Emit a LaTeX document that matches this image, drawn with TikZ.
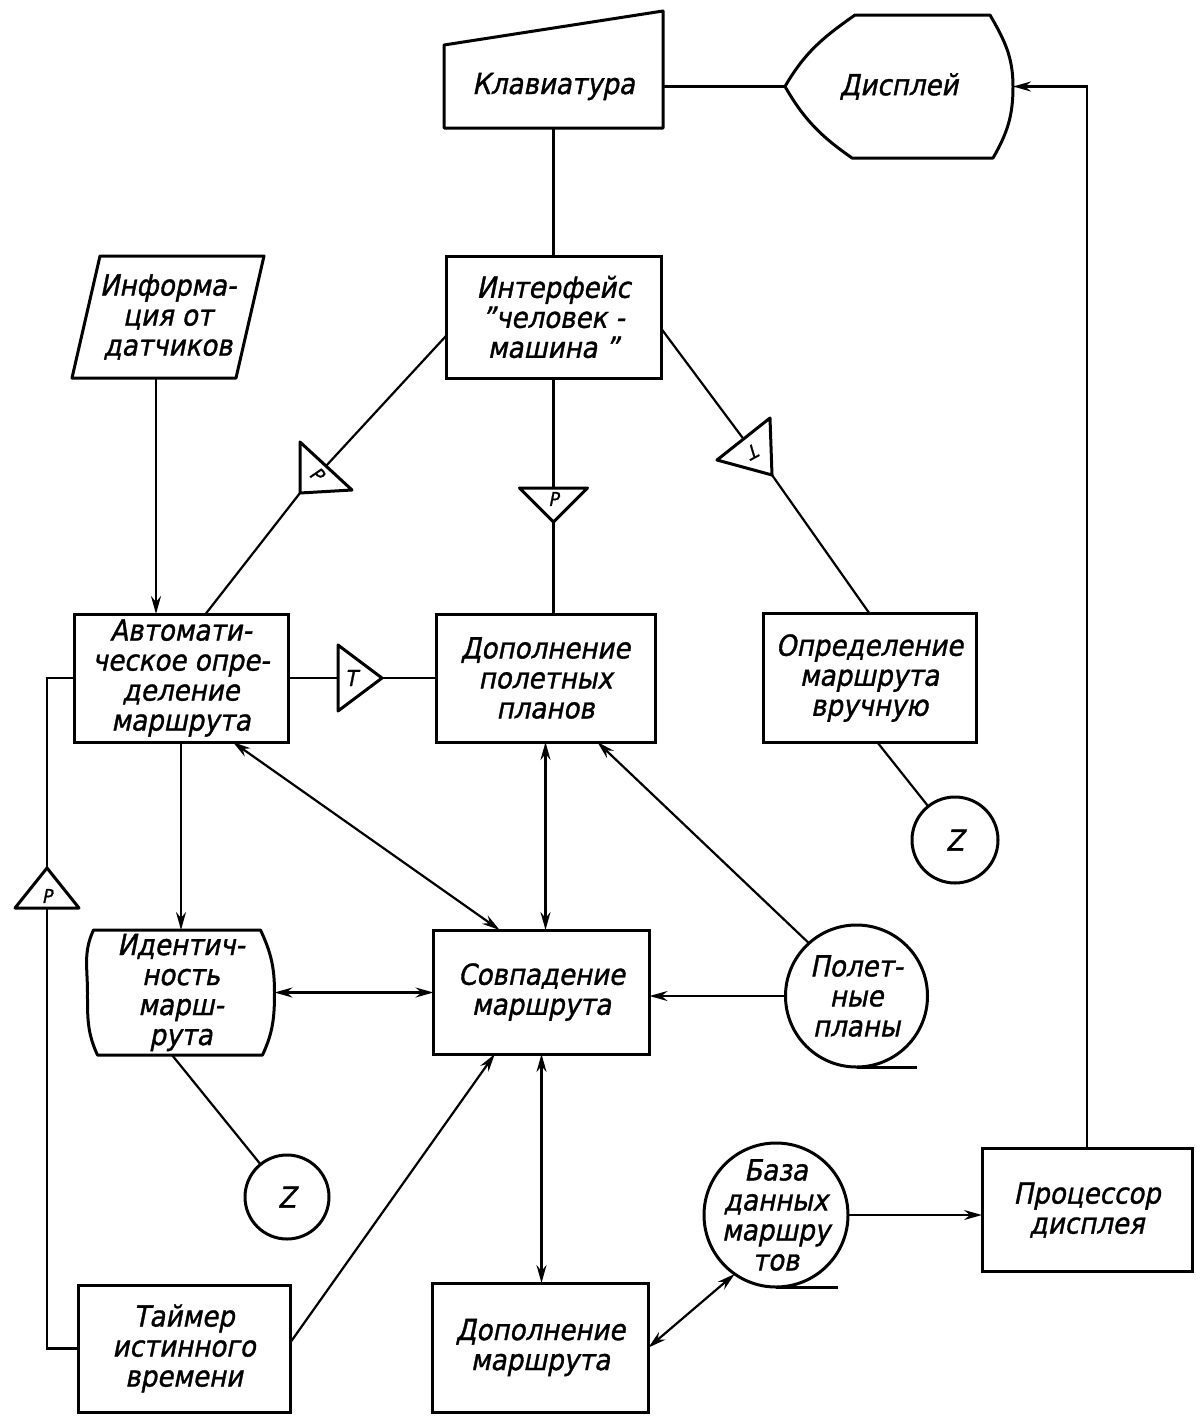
\documentclass[tikz,border=0pt]{standalone}
\usepackage{fontspec}
\setmainfont{DejaVu Sans}[FakeSlant=0.2,FakeStretch=0.9,FakeBold=1.2]
\usetikzlibrary{positioning}
\usetikzlibrary{arrows.meta}

\tikzset{
  box/.style={draw, line width=3pt, align=center, inner sep=2pt, outer sep=0pt},
  bare/.style={align=center, inner sep=2pt, outer sep=0pt},
  disk/.style={draw, circle, line width=3pt, inner sep=0pt, outer sep=0pt},
  outline/.style={line width=3pt, line join=round},
  trilbl/.style={inner sep=0pt, font=\fontsize{19}{19}\selectfont},
  link/.style={line width=2.2pt},
  arr/.style={link, ->},
  darr/.style={link, <->},
}

\begin{document}
\begin{tikzpicture}[x=1pt, y=-1pt, font=\fontsize{29}{30}\selectfont,
    >={Stealth[length=18pt,width=10pt,inset=6pt]}]
    \useasboundingbox (0,0) rectangle (1202,1424);

    % Define nodes
    \node[bare, minimum width=219pt, minimum height=83pt] (kbd) at (553.5,86.5) {Клавиатура};
    \node[bare, right=122pt of kbd, minimum width=228pt, minimum height=143pt] (disp) {Дисплей};
    \node[box, below=128pt of kbd, minimum width=215pt, minimum height=122pt] (iface) {Интерфейс\\\char34 человек -\\машина \char34};
    \node[box, below=236pt of iface, xshift=-8pt, minimum width=219pt, minimum height=128pt] (fpadd) {Дополнение\\полетных\\планов};
    \node[box, left=148pt of fpadd, minimum width=214pt, minimum height=128pt] (auto) {Автомати-\\ческое опре-\\деление\\маршрута};
    \node[box, right=108pt of fpadd, minimum width=213pt, minimum height=129pt] (manual) {Определение\\маршрута\\вручную};
    \node[bare, above=236pt of auto, xshift=-13pt, minimum width=164pt, minimum height=122pt] (info) {Информа-\\ция от\\датчиков};
    \node[box, below=188pt of fpadd, xshift=-4pt, minimum width=216pt, minimum height=124pt] (match) {Совпадение\\маршрута};
    \node[box, below=229pt of match, xshift=-1pt, minimum width=216pt, minimum height=129pt] (radd) {Дополнение\\маршрута};
    \node[bare, below=188pt of auto, minimum width=187pt, minimum height=125pt] (ident) {Идентич-\\ность\\марш-\\рута};
    \node[box, below=230pt of ident, xshift=3pt, minimum width=212pt, minimum height=127pt] (timer) {Таймер\\истинного\\времени};
    \node[disk, right=136pt of match, yshift=-4pt, minimum size=142pt,
          label={[bare]center:{Полет-\\ные\\планы}}] (fplans) {};
    \node[disk, minimum size=144pt, label={[bare]center:{База\\данных\\маршру\\тов}}] (db) at (776,1215) {};
    \node[box, right=134pt of db, yshift=5pt, minimum width=210pt, minimum height=123pt] (proc) {Процессор\\дисплея};
    \node[disk, minimum size=86pt] (z1) at (955,840) {Z};
    \node[disk, minimum size=84pt] (z2) at (287,1197) {Z};

    % Outlines of the special shapes
    \draw[outline] (kbd.north west) -- ([yshift=34pt]kbd.north east) -- (kbd.south east) -- (kbd.south west) -- cycle;
    \draw[outline] (disp.west) to[out=60,in=-145] ([xshift=70pt]disp.north west)
        -- ([xshift=-23pt]disp.north east) to[out=-60,in=90] (disp.east)
        to[out=-90,in=60] ([xshift=-20pt]disp.south east)
        -- ([xshift=67pt]disp.south west) to[out=145,in=-60] (disp.west) -- cycle;
    \draw[outline] ([xshift=14pt]info.north west) -- ([xshift=14pt]info.north east)
        -- ([xshift=-14pt]info.south east) -- ([xshift=-14pt]info.south west) -- cycle;
    \draw[outline] ([xshift=6pt]ident.north west) -- ([xshift=-14pt]ident.north east)
        to[out=-65,in=90] (ident.east) to[out=-90,in=65] ([xshift=-12pt]ident.south east)
        -- ([xshift=10pt]ident.south west) to[out=115,in=-90] (ident.west)
        to[out=90,in=-115] ([xshift=6pt]ident.north west) -- cycle;
    \draw[outline] (fplans.south) -- ++(60,0);
    \draw[outline] (db.south) -- ++(62,0);

    % Triangles
    \node[trilbl] (tpd) at (553.5,499) {P};
    \draw[outline] (519.5,488) -- (587.5,488) -- (553.5,522) -- cycle;
    \coordinate (pdin) at (553.5,488);
    \coordinate (pdout) at (553.5,522);
    \node[trilbl, font=\fontsize{22}{22}\selectfont] (tt) at (351,678) {T};
    \draw[outline] (338,645) -- (382,678) -- (338,711) -- cycle;
    \coordinate (ttin) at (338,678);
    \coordinate (ttout) at (382,678);
    \node[trilbl] (tpl) at (47,896) {P};
    \draw[outline] (47,868) -- (79,908) -- (15,908) -- cycle;
    \coordinate (plup) at (47,868);
    \coordinate (pldown) at (47,908);
    \node[trilbl, rotate=-44] (rho) at (317,474) {P};
    \draw[outline] (300,442) -- (352,490) -- (300,493) -- cycle;
    \coordinate (rhoin) at (326,466);
    \coordinate (rhoout) at (300,493);
    \node[trilbl, rotate=-152] (tr) at (754,451) {T};
    \draw[outline] (770,418) -- (772,475) -- (717,460) -- cycle;
    \coordinate (trin) at (743.5,439);
    \coordinate (trout) at (772,475);
    \coordinate (infout) at ([xshift=-12pt]info.south);

    % Connect the nodes
    \draw[link] (kbd.east) -- (disp.west);
    \draw[arr] (proc.north) |- (disp.east);
    \draw[link] (kbd.south) -- (iface.north);
    \draw[link] (iface.south) -- (pdin);
    \draw[link] (pdout) -- (pdout |- fpadd.north);
    \draw[link] (iface.190) -- (rhoin);
    \draw[link] (rhoout) -- (auto.69);
    \draw[link] (iface.354) -- (trin);
    \draw[link] (trout) -- (manual.north);
    \draw[arr] (infout) -- (infout |- auto.north);
    \draw[link] (auto.east) -- (ttin);
    \draw[link] (ttout) -- (fpadd.west);
    \draw[link] (auto.west) -| (plup);
    \draw[link] (timer.west) -| (pldown);
    \draw[arr] (auto.south) -- (ident.north);
    \draw[darr] (auto.309) -- (match.124);
    \draw[darr] (fpadd.south) -- (fpadd.south |- match.north);
    \draw[arr] (fplans.132) -- (fpadd.309);
    \draw[darr] (ident.east) -- (ident.east -| match.west);
    \draw[arr] (fplans.west) -- (fplans.west -| match.east);
    \draw[link] ([xshift=8pt]manual.south) -- (z1);
    \draw[link] ([xshift=-9pt]ident.south) -- (z2);
    \draw[arr] (timer.3) -- (match.233);
    \draw[darr] (match.south) -- (match.south |- radd.north);
    \draw[darr] (radd.east) -- (db.235);
    \draw[arr] (db.east) -- (db.east -| proc.west);
\end{tikzpicture}
\end{document}
